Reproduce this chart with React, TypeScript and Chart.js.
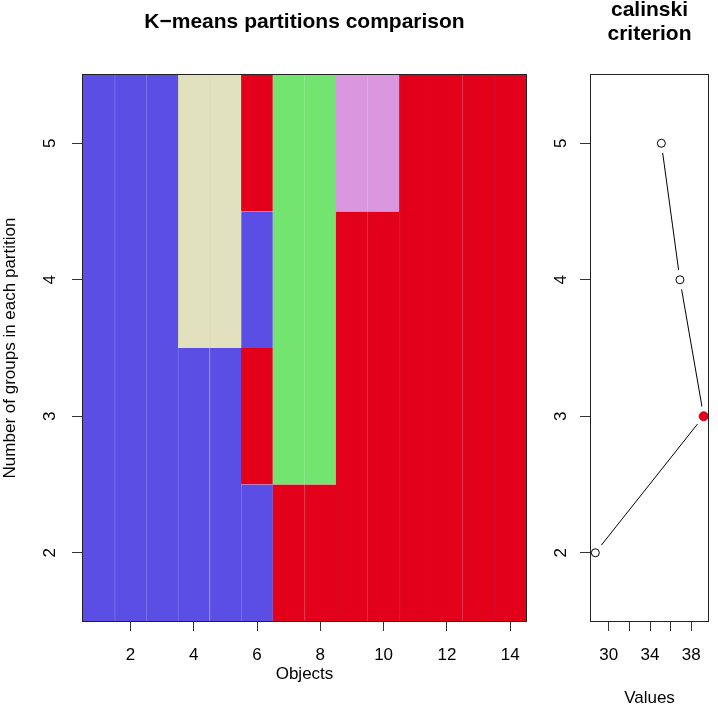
import React, { useEffect, useRef } from 'react';
import { Chart, registerables } from 'chart.js';

Chart.register(...registerables);
Chart.defaults.font.family = "'Liberation Sans', Arial, Helvetica, sans-serif";
Chart.defaults.color = '#000';

// ---- data ----
const objects = [1, 2, 3, 4, 5, 6, 7, 8, 9, 10, 11, 12, 13, 14];
const groupCounts = [2, 3, 4, 5];
const partitionK2 = [1, 1, 1, 1, 1, 1, 2, 2, 2, 2, 2, 2, 2, 2];
const partitionK3 = [1, 1, 1, 1, 1, 2, 3, 3, 2, 2, 2, 2, 2, 2];
const partitionK4 = [1, 1, 1, 4, 4, 1, 3, 3, 2, 2, 2, 2, 2, 2];
const partitionK5 = [1, 1, 1, 4, 4, 2, 3, 3, 5, 5, 2, 2, 2, 2];
const clusterColors = ['#5B4EE4', '#E2001A', '#74E470', '#E2E1BD', '#DB96E0'];
const seamColors = ['#7B72E8', '#D80A22', '#78E075', '#CBCAB4', '#D29CDA'];
const objectTicks = [2, 4, 6, 8, 10, 12, 14];
const objectTickLabels = ['2', '4', '6', '8', '10', '12', '14'];
const groupTickLabels = ['2', '3', '4', '5'];
const calinskiValues = [28.7, 39.2, 36.9, 35.1];
const bestIndex = 1;
const valueTicks = [30, 32, 34, 36, 38];
const valueTickLabels = ['30', '', '34', '', '38'];

const partitions = [partitionK2, partitionK3, partitionK4, partitionK5];

const framePlugin = {
  id: 'frame',
  afterDatasetsDraw(chart: any) {
    const { ctx, chartArea: a } = chart;
    ctx.save();
    ctx.strokeStyle = '#222';
    ctx.lineWidth = 1;
    ctx.strokeRect(Math.round(a.left) - 0.5, Math.round(a.top) - 0.5, Math.round(a.right - a.left) + 1, Math.round(a.bottom - a.top) + 1);
    ctx.restore();
  },
};

function buildRuns() {
  const runs: { x: number; lo: number; hi: number; c: number }[][] = [];
  objects.forEach((obj, i) => {
    let r = 0;
    let start = 0;
    for (let g = 0; g < groupCounts.length; g++) {
      const c = partitions[g][i];
      const next = g + 1 < groupCounts.length ? partitions[g + 1][i] : -1;
      if (next !== c) {
        if (!runs[r]) runs[r] = [];
        runs[r].push({ x: obj, lo: groupCounts[start] - 0.5, hi: groupCounts[g] + 0.5, c });
        r++;
        start = g + 1;
      }
    }
  });
  return runs;
}

const tickFont = { size: 17 };
const axisTitleFont = { size: 17 };

export default function App() {
  const leftRef = useRef<HTMLCanvasElement>(null);
  const rightRef = useRef<HTMLCanvasElement>(null);

  useEffect(() => {
    const runs = buildRuns();
    const barDatasets = runs.map((list) => ({
      data: list.map((p) => ({ x: p.x, y: [p.lo, p.hi] })),
      backgroundColor: list.map((p) => clusterColors[p.c - 1]),
      borderColor: list.map((p) => seamColors[p.c - 1]),
      borderWidth: (ctx: any) =>
        ctx.raw && ctx.raw.x === objects[0] ? 0 : { left: 1, right: 0, top: 0, bottom: 0 },
      borderSkipped: false,
      grouped: false,
      barPercentage: 1,
      categoryPercentage: 1,
    }));

    const left = new Chart(leftRef.current!, {
      type: 'bar',
      data: { datasets: barDatasets as any },
      options: {
        animation: false,
        responsive: false,
        events: [],
        layout: { padding: { left: 0, right: 14, top: 0, bottom: 0 } },
        plugins: {
          legend: { display: false },
          tooltip: { enabled: false },
          title: {
            display: true,
            text: 'K\u2212means partitions comparison',
            font: { size: 21, weight: 'bold', lineHeight: 1.2 },
            color: '#000',
            padding: { top: 9.4, bottom: 40.4 },
            fullSize: false,
          },
        },
        scales: {
          x: {
            type: 'linear',
            min: 0.5,
            max: 14.5,
            offset: false,
            bounds: 'data',
            afterFit: (s: any) => { s.height = 88; },
            afterBuildTicks: (s: any) => { s.ticks = objectTicks.map((v) => ({ value: v })); },
            grid: { display: true, drawOnChartArea: false, drawTicks: true, tickLength: 10, tickColor: '#333', tickWidth: 1, offset: false },
            border: { display: false },
            ticks: {
              font: tickFont, color: '#000', padding: 14, autoSkip: false, maxRotation: 0,
              callback: (v: any) => objectTickLabels[objectTicks.indexOf(Number(v))],
            },
            title: { display: true, text: 'Objects', font: axisTitleFont, color: '#000', padding: { top: 0, bottom: 24 } },
          },
          y: {
            type: 'linear',
            min: 1.5,
            max: 5.5,
            bounds: 'data',
            afterFit: (s: any) => { s.width = 83; },
            afterBuildTicks: (s: any) => { s.ticks = groupCounts.map((v) => ({ value: v })); },
            grid: { display: true, drawOnChartArea: false, drawTicks: true, tickLength: 11, tickColor: '#333', tickWidth: 1 },
            border: { display: false },
            ticks: {
              font: tickFont, color: '#000', padding: 17, crossAlign: 'center', minRotation: 90, maxRotation: 90,
              callback: (v: any) => groupTickLabels[groupCounts.indexOf(Number(v))],
            },
            title: { display: true, text: 'Number of groups in each partition', font: axisTitleFont, color: '#000', padding: { top: 0, bottom: 0 } },
          },
        },
      } as any,
      plugins: [framePlugin],
    });

    const points = calinskiValues.map((v, i) => ({ x: v, y: groupCounts[i] }));
    const vMin = Math.min(...calinskiValues);
    const vMax = Math.max(...calinskiValues);
    const span = vMax - vMin;

    const right = new Chart(rightRef.current!, {
      type: 'scatter',
      data: {
        datasets: [
          {
            data: points,
            showLine: false,
            pointRadius: points.map((_, i) => (i === bestIndex ? 4.5 : 4)),
            pointBackgroundColor: points.map((_, i) => (i === bestIndex ? '#E2001A' : 'rgba(0,0,0,0)')),
            pointBorderColor: points.map((_, i) => (i === bestIndex ? '#E2001A' : '#000')),
            pointBorderWidth: 1,
          },
          {
            data: points,
            showLine: false,
            pointRadius: 10,
            pointBackgroundColor: '#fff',
            pointBorderWidth: 0,
          },
          {
            data: points,
            showLine: true,
            borderColor: '#000',
            borderWidth: 1,
            pointRadius: 0,
          },
        ] as any,
      },
      options: {
        animation: false,
        responsive: false,
        events: [],
        layout: { padding: { left: 0, right: 1, top: 0, bottom: 0 } },
        plugins: {
          legend: { display: false },
          tooltip: { enabled: false },
          title: {
            display: true,
            text: ['calinski', 'criterion'],
            font: { size: 21, weight: 'bold', lineHeight: '24px' },
            color: '#000',
            padding: { top: -2, bottom: 29 },
            fullSize: false,
          },
        },
        scales: {
          x: {
            type: 'linear',
            min: vMin - 0.04 * span,
            max: vMax + 0.04 * span,
            bounds: 'data',
            afterFit: (s: any) => { s.height = 88; },
            afterBuildTicks: (s: any) => { s.ticks = valueTicks.map((v) => ({ value: v })); },
            grid: { display: true, drawOnChartArea: false, drawTicks: true, tickLength: 10, tickColor: '#333', tickWidth: 1 },
            border: { display: false },
            ticks: {
              font: tickFont, color: '#000', padding: 14, autoSkip: false, maxRotation: 0,
              callback: (v: any) => valueTickLabels[valueTicks.indexOf(Number(v))],
            },
            title: { display: true, text: 'Values', font: axisTitleFont, color: '#000', padding: { top: 0, bottom: 0 } },
          },
          y: {
            type: 'linear',
            min: 1.5,
            max: 5.5,
            bounds: 'data',
            afterFit: (s: any) => { s.width = 51; },
            afterBuildTicks: (s: any) => { s.ticks = groupCounts.map((v) => ({ value: v })); },
            grid: { display: true, drawOnChartArea: false, drawTicks: true, tickLength: 11, tickColor: '#333', tickWidth: 1 },
            border: { display: false },
            ticks: {
              font: tickFont, color: '#000', padding: 14, crossAlign: 'center', minRotation: 90, maxRotation: 90,
              callback: (v: any) => groupTickLabels[groupCounts.indexOf(Number(v))],
            },
          },
        },
      } as any,
      plugins: [framePlugin],
    });

    return () => {
      left.destroy();
      right.destroy();
    };
  }, []);

  return (
    <div style={{ position: 'absolute', left: 0, top: 0, width: 718, height: 709, background: '#fff', overflow: 'hidden' }}>
      <canvas ref={leftRef} width={540} height={709} style={{ position: 'absolute', left: 0, top: 0 }} />
      <canvas ref={rightRef} width={178} height={709} style={{ position: 'absolute', left: 540, top: 0 }} />
    </div>
  );
}
